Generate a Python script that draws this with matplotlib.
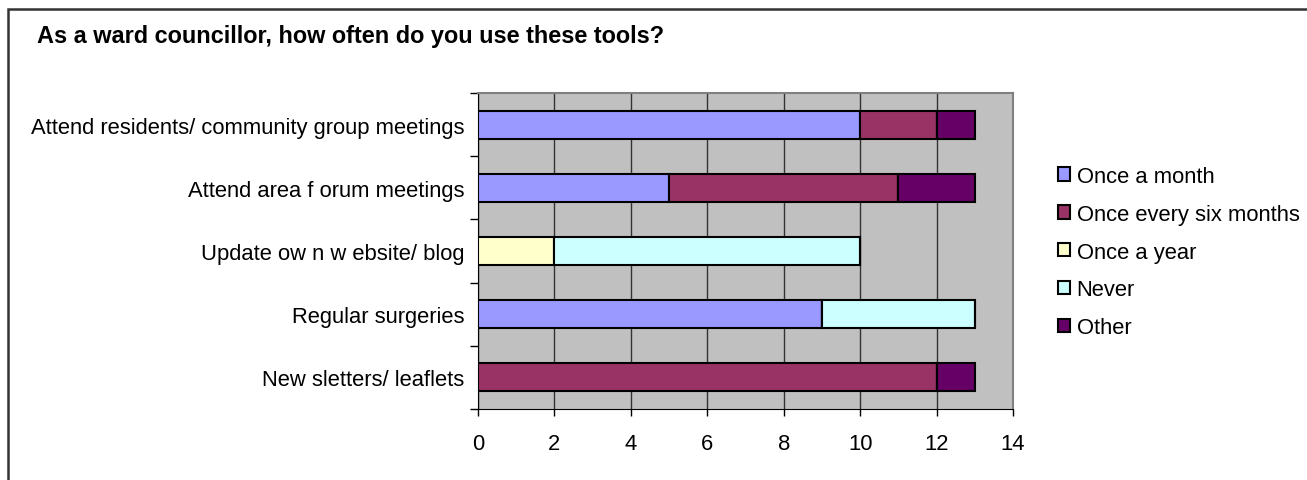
import matplotlib
matplotlib.use("Agg")
import matplotlib.pyplot as plt
from matplotlib.patches import Rectangle
import numpy as np

plt.rcParams['font.family'] = ['Liberation Sans', 'DejaVu Sans']

title = "As a ward councillor, how often do you use these tools?"
categories = [
    "Attend residents/ community group meetings",
    "Attend area f orum meetings",
    "Update ow n w ebsite/ blog",
    "Regular surgeries",
    "New sletters/ leaflets",
]
series_names = ["Once a month", "Once every six months", "Once a year", "Never", "Other"]
once_a_month = [10, 5, 0, 9, 0]
once_every_six_months = [2, 6, 0, 0, 12]
once_a_year = [0, 0, 2, 0, 0]
never = [0, 0, 8, 4, 0]
other = [1, 2, 0, 0, 1]
x_ticks = [0, 2, 4, 6, 8, 10, 12, 14]

colors = ["#9999FF", "#993366", "#FFFFCC", "#CCFFFF", "#660066"]
series = [once_a_month, once_every_six_months, once_a_year, never, other]

W, H = 1307, 481
fs = 15.8
fig = plt.figure(figsize=(W / 100, H / 100), dpi=100)

# outer chart frame
fig.patches.append(Rectangle((8 / W, -0.1), 1.2, 1 - 10 / H + 0.1, transform=fig.transFigure,
                             fill=False, edgecolor="#333333", linewidth=1.8, zorder=0))

fig.text(37 / W, 1 - 36 / H, title, fontsize=16.9, fontweight="bold", va="center", ha="left")

ax = fig.add_axes([478 / W, 1 - 410 / H, (1013 - 478) / W, (410 - 94) / H])
ax.set_facecolor("#C0C0C0")

n = len(categories)
y = np.arange(n)[::-1]
left = np.zeros(n)
handles = []
for name, vals, col in zip(series_names, series, colors):
    vals = np.array(vals, dtype=float)
    h = ax.barh(y, vals, left=left, height=0.44, color=col, edgecolor="black",
                linewidth=1.5, label=name, zorder=3)
    handles.append(h)
    left += vals

ax.set_xlim(0, 14)
ax.set_ylim(-0.5, n - 0.5)
ax.set_xticks(x_ticks)
ax.set_xticklabels([str(t) for t in x_ticks], fontsize=fs)
ax.tick_params(axis="x", direction="out", length=5, width=1, pad=12, color="black")
ax.xaxis.grid(True, color="#333333", linewidth=1.0, zorder=1)
ax.set_axisbelow(True)

# category labels at bar centres, tick marks between categories
ax.set_yticks(y)
ax.set_yticklabels(categories, fontsize=fs)
ax.tick_params(axis="y", length=0, pad=10)
ax.set_yticks(np.arange(n + 1) - 0.5, minor=True)
ax.tick_params(axis="y", which="minor", direction="out", length=6, width=1, color="black")

for side in ["top", "right"]:
    ax.spines[side].set_color("#808080")
    ax.spines[side].set_linewidth(1.5)
ax.spines["left"].set_color("black")
ax.spines["bottom"].set_color("black")

leg = fig.legend(handles=handles, labels=series_names, loc="upper left",
                 bbox_to_anchor=(1049 / W, 1 - 158 / H), frameon=False,
                 fontsize=fs, handlelength=0.56, handleheight=0.56,
                 handletextpad=0.3, labelspacing=0.77, borderaxespad=0)

fig.savefig("out.png", dpi=100)
